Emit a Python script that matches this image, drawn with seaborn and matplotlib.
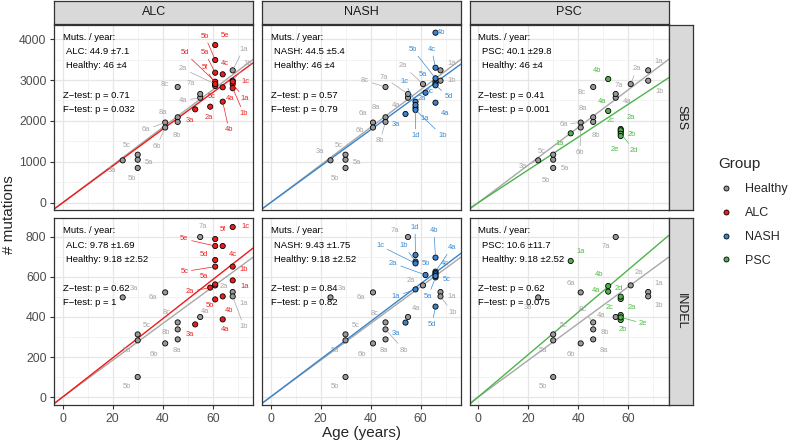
import matplotlib
matplotlib.use("Agg")
import matplotlib.pyplot as plt
from matplotlib.lines import Line2D
import seaborn as sns
import pandas as pd
import numpy as np

sns.set_theme(style="white")
plt.rcParams['font.family'] = ['Liberation Sans', 'DejaVu Sans']

# ---------------- data ----------------
groups = ["Healthy", "ALC", "NASH", "PSC"]
diseases = ["ALC", "NASH", "PSC"]
rows = ["SBS", "INDEL"]

healthy_labels = ["1a", "1b", "2a", "3a", "4a", "5a", "5b", "5c", "6a", "6b", "7a", "8a", "8b", "8c"]
healthy_age = [68, 68, 61, 24, 55, 30, 30, 30, 41, 41, 55, 46, 46, 46]
healthy_sbs = [3237, 2983, 2900, 1036, 2567, 1052, 850, 1174, 1960, 1838, 2658, 2088, 1975, 2829]
healthy_indel = [525, 503, 558, 498, 400, 283, 100, 313, 523, 268, 800, 288, 338, 373]

alc_labels = ["1a", "1b", "1c", "2a", "3a", "4a", "4b", "4c", "5a", "5b", "5c", "5d", "5e", "5f"]
alc_age = [68, 68, 68, 59, 53, 64, 64, 64, 61, 61, 61, 61, 61, 61]
alc_sbs = [2900, 2800, 2960, 2348, 2283, 2822, 2470, 3139, 3178, 3489, 2853, 2958, 3856, 2902]
alc_indel = [583, 652, 850, 547, 363, 388, 503, 755, 563, 488, 652, 685, 755, 790]

nash_labels = ["1a", "1b", "1c", "1d", "2a", "3a", "4a", "4b", "4c", "5a", "5b", "5c", "5d"]
nash_age = [58, 58, 58, 58, 62, 54, 66, 66, 66, 66, 66, 66, 66]
nash_sbs = [2323, 2267, 2470, 2389, 2689, 2169, 2445, 4157, 3301, 2958, 3041, 2900, 2870]
nash_indel = [538, 677, 668, 710, 610, 372, 627, 697, 620, 598, 613, 605, 452]

psc_labels = ["1a", "2a", "2b", "2c", "2d", "2e", "4a", "4b"]
psc_age = [37, 57, 57, 57, 57, 57, 52, 52]
psc_sbs = [1696, 1802, 1736, 1770, 1687, 1631, 2242, 3024]
psc_indel = [680, 410, 385, 490, 502, 398, 527, 555]

# mutation rates (muts / year) and tests
slope_sbs = {"Healthy": 46.0, "ALC": 44.9, "NASH": 44.5, "PSC": 40.1}
slope_indel = {"Healthy": 9.18, "ALC": 9.78, "NASH": 9.43, "PSC": 10.6}
rate_txt_sbs = {"Healthy": "46 ±4", "ALC": "44.9 ±7.1", "NASH": "44.5 ±5.4", "PSC": "40.1 ±29.8"}
rate_txt_indel = {"Healthy": "9.18 ±2.52", "ALC": "9.78 ±1.69", "NASH": "9.43 ±1.75", "PSC": "10.6 ±11.7"}
z_sbs = {"ALC": "0.71", "NASH": "0.57", "PSC": "0.41"}
f_sbs = {"ALC": "0.032", "NASH": "0.79", "PSC": "0.001"}
z_indel = {"ALC": "0.62", "NASH": "0.84", "PSC": "0.62"}
f_indel = {"ALC": "1", "NASH": "0.82", "PSC": "0.075"}

x_major = [0, 20, 40, 60]
x_minor = [10, 30, 50, 70]
y_major = {"SBS": [0, 1000, 2000, 3000, 4000], "INDEL": [0, 200, 400, 600, 800]}
y_minor = {"SBS": [500, 1500, 2500, 3500], "INDEL": [100, 300, 500, 700]}

# ---------------- styles ----------------
colors = {"Healthy": "#999999", "ALC": "#EE1C1C", "NASH": "#3A84CC", "PSC": "#4DB34A"}
line_colors = {"Healthy": "#A8A8A8", "ALC": "#F01818", "NASH": "#3A84CC", "PSC": "#4DB34A"}
text_colors = {"Healthy": "#A6A6A6", "ALC": "#F02020", "NASH": "#3C8CD4", "PSC": "#52BA48"}

# label offsets (screen px; +x right, +y down) imitating ggrepel placement
h_off = {
    ("SBS", "ALC"): {"1a": (10.7, -21.3), "1b": (15, -17), "2a": (-32.2, -15.3), "3a": (-10.3, 9.7),
                     "4a": (-17.2, 3), "5a": (11.3, 3), "5b": (-6, 10.7), "5c": (-10.7, -8.7),
                     "6a": (-19.2, 7), "6b": (-8.5, 18.7), "7a": (-8.9, -10), "8a": (-15, -4.7),
                     "8b": (-1, 14), "8c": (-13.3, -2.7)},
    ("SBS", "NASH"): {"1a": (10.7, -7), "1b": (11, 0), "2a": (-19.7, -18.3), "3a": (-11, -9.3),
                      "4a": (-12, 7.3), "5a": (11.2, 3), "5b": (-10.5, 10.3), "5c": (-6.5, -8.7),
                      "6a": (-10.3, -9), "6b": (-13, 2.7), "7a": (-23.7, -16.3), "8a": (-9.5, -10),
                      "8b": (-5.5, 19), "8c": (-20.5, -6.3)},
    ("SBS", "PSC"): {"1a": (10.3, -9.3), "1b": (11, 10.3), "2a": (6, -15.3), "3a": (-15, 6.3),
                     "4a": (11.3, 3.3), "5a": (11.7, 9), "5b": (-7.7, 12.7), "5c": (-12, -3.3),
                     "6a": (-17.3, 1.7), "6b": (-0.7, 25), "7a": (3.3, -8.7), "8a": (-10.7, -9),
                     "8b": (2.7, 13.7), "8c": (-11.3, 5)},
    ("INDEL", "ALC"): {"1a": (11.3, 11.3), "1b": (11.3, 30.3), "2a": (8.8, 1.3), "3a": (11, -9),
                       "4a": (4.8, -5.3), "5a": (-11, 10.3), "5b": (-10.3, 9.7), "5c": (9, -8.7),
                       "6a": (-11.9, 5), "6b": (-11.2, 10.7), "7a": (3.1, -10.3), "8a": (-1, 11.3),
                       "8b": (-12, 2.7), "8c": (-11, -9.7)},
    ("INDEL", "NASH"): {"1a": (11, 5), "1b": (11.7, 15.7), "2a": (-12.3, -5.3), "3a": (11.3, -9),
                        "4a": (7.7, -8.7), "5a": (-10.5, 10.3), "5b": (-10.2, 9.7), "5c": (10.2, -8.7),
                        "6a": (-12.3, 5), "6b": (-10.7, 10.7), "7a": (-13, -6), "8a": (-1.2, 10.7),
                        "8b": (18.5, 20.7), "8c": (-10.5, -9)},
    ("INDEL", "PSC"): {"1a": (10, -8.3), "1b": (10, 9.3), "2a": (8, -13.3), "3a": (-10.7, 10),
                       "4a": (-14.3, -1), "5a": (-10, 10.3), "5b": (-10, 9.7), "5c": (10.7, -8.7),
                       "6a": (-10, -9), "6b": (-10, 10.7), "7a": (-10.3, 9.7), "8a": (10.7, 10.7),
                       "8b": (11.7, 2.7), "8c": (-11, -13)},
}
d_off = {
    ("SBS", "ALC"): {"5e": (9.7, -9), "5b": (-10.3, -24), "5a": (-10.3, -20.3), "4c": (2, -11),
                     "5d": (-30.7, -29.3), "5f": (-10.3, -16.7), "5c": (-3.7, 10.7), "4a": (7.3, 11),
                     "1c": (12.3, 0), "1a": (12, 14.3), "1b": (11, 25.3), "2a": (-1, 10.7),
                     "4b": (6.3, 28.3), "3a": (-5.7, 10.7)},
    ("INDEL", "ALC"): {"1c": (12.7, 0), "5f": (7.3, -9), "5e": (-31, -7), "4c": (10.3, 8.3),
                       "5d": (-11, -5.7), "5c": (-31, 5), "1b": (11, 3.3), "1a": (11.7, 6.3),
                       "5a": (-11, -8.3), "2a": (-20.3, 4), "5b": (-5.3, 5.7), "4b": (6.3, 13.7),
                       "4a": (2, 9.7), "3a": (-5.7, 10)},
    ("SBS", "NASH"): {"4b": (5.5, 0), "4c": (-3.8, -18.3), "5b": (-22.8, -29), "5a": (-12.2, -7.3),
                      "5c": (-5.5, 7.7), "5d": (13.5, 11.3), "4a": (9.5, 10.7), "2a": (-3.8, 5.7),
                      "1c": (-11.5, -20), "1d": (0, 30.7), "1a": (9.5, 11.3), "1b": (26.8, 25.7),
                      "3a": (-9.5, 10.3)},
    ("INDEL", "NASH"): {"1a": (-19.5, 6.7), "1b": (-11.5, -16), "1c": (-35.5, -17.7), "1d": (-0.5, -27.7),
                        "2a": (-32.2, -11.7), "3a": (-9.5, 10.7), "4a": (16.2, -24), "4b": (-1.5, -26.7),
                        "4c": (9.5, -9.7), "5a": (-7.2, 18.7), "5b": (-9.8, -11), "5c": (11.2, 4),
                        "5d": (-3.5, 17.7)},
    ("SBS", "PSC"): {"4b": (-11, -9), "4a": (-6, -9.3), "1a": (-10.8, 10), "2a": (10.2, -11.3),
                     "2c": (-9.8, -9.7), "2b": (11.5, 2.7), "2d": (13.5, 16.3), "2e": (-5.5, 14)},
    ("INDEL", "PSC"): {"1a": (9.9, -9), "4b": (-9, -11.7), "4a": (-12.3, -1), "2d": (-1.8, -8.3),
                       "2c": (-11.5, 8.3), "2a": (10.9, -7.7), "2e": (22.5, 6), "2b": (2.5, 10)},
}

# ---------------- build tables ----------------
def frame(group, labels, age, sbs, indel):
    return pd.DataFrame({"group": group, "label": labels, "age": age, "SBS": sbs, "INDEL": indel})

df_h = frame("Healthy", healthy_labels, healthy_age, healthy_sbs, healthy_indel)
df_d = {
    "ALC": frame("ALC", alc_labels, alc_age, alc_sbs, alc_indel),
    "NASH": frame("NASH", nash_labels, nash_age, nash_sbs, nash_indel),
    "PSC": frame("PSC", psc_labels, psc_age, psc_sbs, psc_indel),
}

# ---------------- layout ----------------
W, H = 792, 443
fig = plt.figure(figsize=(W / 100, H / 100), dpi=100)

col_left = [54.0, 261.8, 469.5]
col_w = 199.3
row_top = [25.0, 218.5]
row_h = [185.0, 186.0]
xlim = (-3.48, 76.24)
ylims = {"SBS": (-178.5, 4345), "INDEL": (-37.5, 892.5)}


def frac(l, t, w, h):
    return [l / W, 1 - (t + h) / H, w / W, h / H]


text_px = [12.5, 26.6, 40.8, 70.0, 84.4]

for r, row in enumerate(rows):
    for c, dis in enumerate(diseases):
        ax = fig.add_axes(frac(col_left[c], row_top[r], col_w, row_h[r]))
        ax.set_facecolor("white")
        ax.set_xlim(*xlim)
        ax.set_ylim(*ylims[row])
        ax.set_xticks(x_major)
        ax.set_xticks(x_minor, minor=True)
        ax.set_yticks(y_major[row])
        ax.set_yticks(y_minor[row], minor=True)
        ax.grid(which="major", color="#E6E6E6", lw=0.9)
        ax.grid(which="minor", color="#F0F0F0", lw=0.55)
        ax.set_axisbelow(True)
        for sp in ax.spines.values():
            sp.set_color("#333333")
            sp.set_linewidth(0.9)
        ax.tick_params(which="minor", length=0)
        ax.tick_params(which="major", length=2.9, width=0.8, color="#333333",
                       labelsize=8.8, labelcolor="#4D4D4D", pad=2.5)
        ax.tick_params(axis="x", pad=3.2)
        ax.tick_params(left=(c == 0), labelleft=(c == 0),
                       bottom=(r == 1), labelbottom=(r == 1))

        slopes = slope_sbs if row == "SBS" else slope_indel
        ax.axline((0, 0), slope=slopes["Healthy"], color=line_colors["Healthy"], lw=1.0, zorder=2)
        ax.axline((0, 0), slope=slopes[dis], color=line_colors[dis], lw=1.0, zorder=2)

        data = pd.concat([df_h, df_d[dis]], ignore_index=True)
        sns.scatterplot(data=data, x="age", y=row, hue="group", palette=colors,
                        hue_order=["Healthy", dis], s=14, edgecolor="black",
                        linewidth=0.6, legend=False, ax=ax, zorder=3)
        ax.set_xlabel("")
        ax.set_ylabel("")

        # repel-like labels
        for sub, offs in ((df_h, h_off[(row, dis)]), (df_d[dis], d_off[(row, dis)])):
            for _, p in sub.iterrows():
                dx, dy = offs.get(p["label"], (8, -8))
                col = text_colors[p["group"]]
                kw = {}
                if np.hypot(dx, dy) > 16:
                    kw["arrowprops"] = dict(arrowstyle="-", color=col, lw=0.5,
                                            shrinkA=0, shrinkB=2.2)
                ax.annotate(p["label"], xy=(p["age"], p[row]), xytext=(dx, -dy),
                            textcoords="offset pixels", ha="center", va="center",
                            fontsize=5.4, color=col, zorder=4, **kw)

        # stats text
        rt = rate_txt_sbs if row == "SBS" else rate_txt_indel
        zt = z_sbs if row == "SBS" else z_indel
        ft = f_sbs if row == "SBS" else f_indel
        lines = [("Muts. / year:", 9),
                 (f"{dis}: {rt[dis]}", 12),
                 (f"Healthy: {rt['Healthy']}", 12),
                 (f"Z\u2212test: p = {zt[dis]}", 9),
                 (f"F\u2212test: p = {ft[dis]}", 9)]
        for (txt, xo), yo in zip(lines, text_px):
            ax.text(xo / col_w, 1 - yo / row_h[r], txt, transform=ax.transAxes,
                    ha="left", va="center", fontsize=6.8, color="black", zorder=5)

# strips
for c, dis in enumerate(diseases):
    sax = fig.add_axes(frac(col_left[c], 0.6, col_w, 23.6))
    sax.set_facecolor("#D9D9D9")
    sax.set_xticks([]); sax.set_yticks([])
    for sp in sax.spines.values():
        sp.set_color("#333333"); sp.set_linewidth(0.9)
    sax.text(0.5, 0.5, dis, ha="center", va="center", fontsize=9, color="#1A1A1A",
             transform=sax.transAxes)
for r, row in enumerate(rows):
    sax = fig.add_axes(frac(669.3, row_top[r], 24.0, row_h[r]))
    sax.set_facecolor("#D9D9D9")
    sax.set_xticks([]); sax.set_yticks([])
    for sp in sax.spines.values():
        sp.set_color("#333333"); sp.set_linewidth(0.9)
    sax.text(0.5, 0.5, row, ha="center", va="center", fontsize=9, color="#1A1A1A",
             rotation=-90, transform=sax.transAxes)

# axis titles
fig.text(361.4 / W, 1 - 433 / H, "Age (years)", ha="center", va="center", fontsize=11)
fig.text(9.5 / W, 1 - 214.7 / H, "# mutations", ha="center", va="center", fontsize=11,
         rotation=90)

# legend
handles = [Line2D([0], [0], marker="o", ls="", markerfacecolor=colors[g],
                  markeredgecolor="black", markeredgewidth=0.6, markersize=3.6)
           for g in groups]
leg = fig.legend(handles, groups, title="Group", loc="upper left",
                 bbox_to_anchor=(707 / W, 1 - 146 / H), frameon=False, fontsize=9,
                 title_fontsize=11, labelspacing=0.95, handletextpad=0.9,
                 handlelength=1.2, alignment="left")

fig.savefig("out.png", dpi=100)
